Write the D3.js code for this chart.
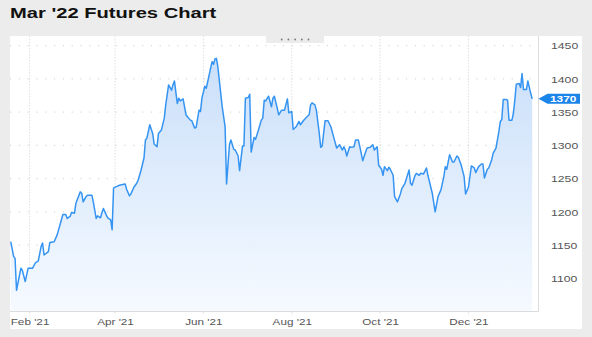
<!DOCTYPE html>
<html>
<head>
<meta charset="utf-8">
<script src="https://cdn.jsdelivr.net/npm/d3@7/dist/d3.min.js"></script>
<style>
    body { margin: 0; background: #ececec; overflow: hidden; }
    #chartdiv { width: 592px; height: 337px; }
</style>
</head>
<body>
<div id="chartdiv"></div>
<script>
/*global d3 */

////////////////////////////////////////
// chart data
////////////////////////////////////////

var chartTitle = "Mar '22 Futures Chart";

var tradeDates = [
    "2021-01-19", "2021-01-21", "2021-01-22", "2021-01-23", "2021-01-26",
    "2021-01-27", "2021-01-29", "2021-01-31", "2021-02-03", "2021-02-05",
    "2021-02-07", "2021-02-09", "2021-02-10", "2021-02-11", "2021-02-14",
    "2021-02-15", "2021-02-18", "2021-02-20", "2021-02-23", "2021-02-24",
    "2021-02-26", "2021-02-27", "2021-03-01", "2021-03-02", "2021-03-04",
    "2021-03-05", "2021-03-08", "2021-03-09", "2021-03-10", "2021-03-12",
    "2021-03-13", "2021-03-16", "2021-03-17", "2021-03-19", "2021-03-20",
    "2021-03-22", "2021-03-23", "2021-03-24", "2021-03-26", "2021-03-27",
    "2021-03-29", "2021-03-30", "2021-03-31", "2021-04-02", "2021-04-04",
    "2021-04-08", "2021-04-09", "2021-04-11", "2021-04-12", "2021-04-14",
    "2021-04-16", "2021-04-17", "2021-04-19", "2021-04-21", "2021-04-22",
    "2021-04-23", "2021-04-25", "2021-04-27", "2021-04-28", "2021-04-30",
    "2021-05-01", "2021-05-03", "2021-05-05", "2021-05-06", "2021-05-08",
    "2021-05-10", "2021-05-11", "2021-05-12", "2021-05-14", "2021-05-15",
    "2021-05-16", "2021-05-18", "2021-05-20", "2021-05-21", "2021-05-23",
    "2021-05-24", "2021-05-26", "2021-05-27", "2021-05-29", "2021-05-30",
    "2021-05-31", "2021-06-02", "2021-06-03", "2021-06-05", "2021-06-07",
    "2021-06-08", "2021-06-09", "2021-06-10", "2021-06-11", "2021-06-13",
    "2021-06-14", "2021-06-16", "2021-06-17", "2021-06-19", "2021-06-20",
    "2021-06-22", "2021-06-23", "2021-06-25", "2021-06-26", "2021-06-28",
    "2021-06-29", "2021-06-30", "2021-07-02", "2021-07-03", "2021-07-04",
    "2021-07-06", "2021-07-07", "2021-07-09", "2021-07-11", "2021-07-12",
    "2021-07-13", "2021-07-14", "2021-07-16", "2021-07-18", "2021-07-19",
    "2021-07-20", "2021-07-22", "2021-07-23", "2021-07-25", "2021-07-27",
    "2021-07-29", "2021-07-30", "2021-08-01", "2021-08-02", "2021-08-04",
    "2021-08-06", "2021-08-07", "2021-08-09", "2021-08-11", "2021-08-13",
    "2021-08-14", "2021-08-15", "2021-08-17", "2021-08-18", "2021-08-20",
    "2021-08-21", "2021-08-22", "2021-08-24", "2021-08-26", "2021-08-28",
    "2021-08-30", "2021-09-01", "2021-09-03", "2021-09-05", "2021-09-06",
    "2021-09-07", "2021-09-08", "2021-09-10", "2021-09-11", "2021-09-13",
    "2021-09-14", "2021-09-16", "2021-09-17", "2021-09-19", "2021-09-21",
    "2021-09-22", "2021-09-24", "2021-09-26", "2021-09-27", "2021-09-29",
    "2021-09-30", "2021-10-02", "2021-10-03", "2021-10-04", "2021-10-06",
    "2021-10-07", "2021-10-08", "2021-10-10", "2021-10-11", "2021-10-13",
    "2021-10-15", "2021-10-16", "2021-10-18", "2021-10-21", "2021-10-22",
    "2021-10-23", "2021-10-25", "2021-10-26", "2021-10-28", "2021-10-29",
    "2021-10-31", "2021-11-02", "2021-11-03", "2021-11-06", "2021-11-08",
    "2021-11-10", "2021-11-12", "2021-11-14", "2021-11-15", "2021-11-16",
    "2021-11-18", "2021-11-20", "2021-11-21", "2021-11-23", "2021-11-24",
    "2021-11-26", "2021-11-28", "2021-11-29", "2021-12-01", "2021-12-03",
    "2021-12-05", "2021-12-06", "2021-12-08", "2021-12-10", "2021-12-11",
    "2021-12-12", "2021-12-14", "2021-12-15", "2021-12-17", "2021-12-18",
    "2021-12-20", "2021-12-22", "2021-12-23", "2021-12-24", "2021-12-25",
    "2021-12-27", "2021-12-28", "2021-12-29", "2021-12-31", "2022-01-01",
    "2022-01-02", "2022-01-03", "2022-01-05", "2022-01-06", "2022-01-07",
    "2022-01-08", "2022-01-10", "2022-01-11", "2022-01-13", "2022-01-14"];

var closePrices = [
    1155, 1133, 1130, 1082, 1115, 1112, 1095, 1115, 1115, 1123,
    1126, 1148, 1153, 1135, 1140, 1154, 1155, 1165, 1188, 1196,
    1196, 1190, 1193, 1199, 1198, 1213, 1230, 1228, 1215, 1223,
    1225, 1225, 1215, 1190, 1194, 1191, 1199, 1205, 1195, 1191,
    1188, 1173, 1236, 1238, 1240, 1242, 1234, 1224, 1227, 1237,
    1243, 1248, 1263, 1281, 1308, 1311, 1331, 1318, 1302, 1298,
    1318, 1323, 1341, 1361, 1391, 1383, 1391, 1397, 1363, 1371,
    1367, 1370, 1346, 1343, 1338, 1337, 1326, 1327, 1353, 1351,
    1371, 1389, 1386, 1406, 1426, 1422, 1430, 1431, 1418, 1378,
    1358, 1328, 1242, 1301, 1308, 1294, 1293, 1284, 1262, 1299,
    1299, 1371, 1372, 1377, 1290, 1312, 1309, 1323, 1338, 1341,
    1368, 1367, 1374, 1358, 1371, 1374, 1356, 1346, 1353, 1353,
    1370, 1349, 1351, 1324, 1328, 1336, 1331, 1337, 1342, 1346,
    1361, 1364, 1361, 1353, 1318, 1297, 1299, 1337, 1337, 1328,
    1312, 1296, 1301, 1293, 1298, 1293, 1284, 1298, 1297, 1298,
    1308, 1308, 1298, 1277, 1290, 1296, 1297, 1301, 1293, 1298,
    1270, 1264, 1255, 1268, 1262, 1267, 1264, 1255, 1223, 1215,
    1227, 1235, 1242, 1263, 1243, 1240, 1254, 1258, 1255, 1258,
    1257, 1266, 1255, 1228, 1200, 1223, 1233, 1253, 1268, 1264,
    1286, 1275, 1275, 1284, 1282, 1270, 1253, 1227, 1237, 1269,
    1266, 1259, 1268, 1272, 1272, 1251, 1264, 1266, 1278, 1288,
    1296, 1321, 1336, 1339, 1369, 1369, 1368, 1338, 1338, 1348,
    1368, 1392, 1393, 1387, 1408, 1384, 1384, 1397, 1378, 1370];

var priceTicks = [1100, 1150, 1200, 1250, 1300, 1350, 1400, 1450];

var monthTicks = ["2021-02-01", "2021-04-01", "2021-06-01", "2021-08-01",
                  "2021-10-01", "2021-12-01"];

var dateSpan = ["2021-01-18T12:00", "2022-01-18T00:00"];
var priceSpan = [1050, 1464.6];


var chart = (function () {
    "use strict";

    ////////////////////////////////////////
    // closure variables
    ////////////////////////////////////////

    var cst = {width: 592, height: 337,
               panel: {x: 10, y: 36, w: 572, h: 293},
               plot: {left: 10, right: 538, top: 36, bottom: 311.5},
               font: "'Liberation Sans', Arial, sans-serif",
               linec: "#3594f2", gridc: "#d9d9d9", txtc: "#555"},
        parseDay = d3.utcParse("%Y-%m-%d"),
        parseTime = d3.utcParse("%Y-%m-%dT%H:%M"),


    ////////////////////////////////////////
    // helper functions
    ////////////////////////////////////////

    //the reference picture is stretched sideways, so text is too
    stretch = function (sel, x, sx) {
        sel.attr("x", 0)
            .attr("transform", "translate(" + x + ",0) scale(" + sx + ",1)");
    },


    drawFrame = function (svg) {
        var p = cst.panel, i;
        svg.append("text")
            .attr("y", 18.3)
            .style("font-family", cst.font)
            .style("font-weight", "bold")
            .style("font-size", "15.5px")
            .attr("fill", "#111")
            .text(chartTitle)
            .call(stretch, 10, 1.3);
        svg.append("rect")
            .attr("x", p.x).attr("y", p.y)
            .attr("width", p.w).attr("height", p.h)
            .attr("fill", "#fff");
        //drag handle tab at the top of the panel
        svg.append("rect")
            .attr("x", 266).attr("y", p.y)
            .attr("width", 58).attr("height", 7)
            .attr("fill", "#ececec");
        for(i = 0; i < 5; i += 1) {
            svg.append("circle")
                .attr("cx", 281.7 + i * 6.7).attr("cy", 39.5)
                .attr("r", 0.9).attr("fill", "#777"); }
    },


    drawGrid = function (svg, xs, ys) {
        var pl = cst.plot;
        svg.append("g").selectAll("line")
            .data(priceTicks)
            .join("line")
            .attr("x1", pl.left).attr("x2", pl.right)
            .attr("y1", function (d) { return ys(d); })
            .attr("y2", function (d) { return ys(d); })
            .attr("stroke", cst.gridc)
            .attr("stroke-width", 1.2)
            .attr("stroke-dasharray", "1.2,7.6");
        svg.append("g").selectAll("line")
            .data(monthTicks.map(parseDay))
            .join("line")
            .attr("x1", function (d) { return xs(d); })
            .attr("x2", function (d) { return xs(d); })
            .attr("y1", pl.top).attr("y2", pl.bottom + 4)
            .attr("stroke", "#e3e3e3")
            .attr("stroke-width", 1.1)
            .attr("stroke-dasharray", "1.5,1.5");
    },


    drawSeries = function (svg, xs, ys) {
        var pl = cst.plot, pts, grad;
        pts = tradeDates.map(function (d, i) {
            return {date: parseDay(d), price: closePrices[i]}; });
        grad = svg.append("defs").append("linearGradient")
            .attr("id", "areafill")
            .attr("gradientUnits", "userSpaceOnUse")
            .attr("x1", 0).attr("x2", 0)
            .attr("y1", pl.top).attr("y2", pl.bottom);
        grad.append("stop").attr("offset", 0).attr("stop-color", "#c6ddf9");
        grad.append("stop").attr("offset", 1).attr("stop-color", "#f6faff");
        svg.append("path")
            .datum(pts)
            .attr("fill", "url(#areafill)")
            .attr("d", d3.area()
                  .x(function (d) { return xs(d.date); })
                  .y0(pl.bottom)
                  .y1(function (d) { return ys(d.price); }));
        svg.append("path")
            .datum(pts)
            .attr("fill", "none")
            .attr("stroke", cst.linec)
            .attr("stroke-width", 1.5)
            .attr("stroke-linejoin", "round")
            .attr("d", d3.line()
                  .x(function (d) { return xs(d.date); })
                  .y(function (d) { return ys(d.price); }));
        return pts[pts.length - 1];
    },


    drawAxes = function (svg, xs, ys) {
        var pl = cst.plot, xg, yg;
        svg.append("line")
            .attr("x1", pl.left).attr("x2", pl.right + 0.5)
            .attr("y1", pl.bottom).attr("y2", pl.bottom)
            .attr("stroke", "#dcdcdc");
        svg.append("line")
            .attr("x1", pl.right + 0.5).attr("x2", pl.right + 0.5)
            .attr("y1", pl.top).attr("y2", pl.bottom)
            .attr("stroke", "#dcdcdc");
        yg = svg.append("g")
            .attr("transform", "translate(" + pl.right + ",0)")
            .call(d3.axisRight(ys).tickValues(priceTicks).tickSize(0)
                  .tickFormat(d3.format("d")));
        yg.select(".domain").remove();
        yg.selectAll("text")
            .attr("dy", "0.36em")
            .style("font-family", cst.font)
            .style("font-size", "9px")
            .attr("fill", cst.txtc)
            .call(stretch, 13, 1.36);
        xg = svg.append("g")
            .attr("transform", "translate(0," + pl.bottom + ")")
            .call(d3.axisBottom(xs).tickValues(monthTicks.map(parseDay))
                  .tickSize(0).tickFormat(d3.utcFormat("%b '%y")));
        xg.select(".domain").remove();
        //scaling about the tick origin keeps the label centred
        xg.selectAll("text")
            .attr("dy", 0).attr("y", 13.6)
            .style("font-family", cst.font)
            .style("font-size", "9.3px")
            .attr("fill", cst.txtc)
            .attr("text-anchor", "middle")
            .attr("transform", "scale(1.26,1)");
    },


    drawLastTag = function (svg, ys, last) {
        var pl = cst.plot, y = ys(last.price), x0 = pl.right + 0.5;
        svg.append("path")
            .attr("d", "M" + x0 + "," + y +
                  "L" + (x0 + 9) + "," + (y - 5) +
                  "H580V" + (y + 5) + "H" + (x0 + 9) + "Z")
            .attr("fill", "#1b84e8");
        svg.append("text")
            .attr("y", y)
            .attr("dy", "0.36em")
            .style("font-family", cst.font)
            .style("font-weight", "bold")
            .style("font-size", "8.5px")
            .attr("fill", "#fff")
            .text(d3.format("d")(last.price))
            .call(stretch, 550, 1.4);
    };


    ////////////////////////////////////////
    // published functions
    ////////////////////////////////////////
return {

    run: function () {
        var svg, xs, ys, last;
        svg = d3.select("#chartdiv").append("svg")
            .attr("width", cst.width).attr("height", cst.height);
        xs = d3.scaleUtc()
            .domain(dateSpan.map(parseTime))
            .range([cst.plot.left, cst.plot.right]);
        ys = d3.scaleLinear()
            .domain(priceSpan)
            .range([cst.plot.bottom, cst.plot.top]);
        drawFrame(svg);
        drawGrid(svg, xs, ys);
        last = drawSeries(svg, xs, ys);
        drawAxes(svg, xs, ys);
        drawLastTag(svg, ys, last);
    }

};  //end of returned functions
}());

chart.run();
</script>
</body>
</html>
